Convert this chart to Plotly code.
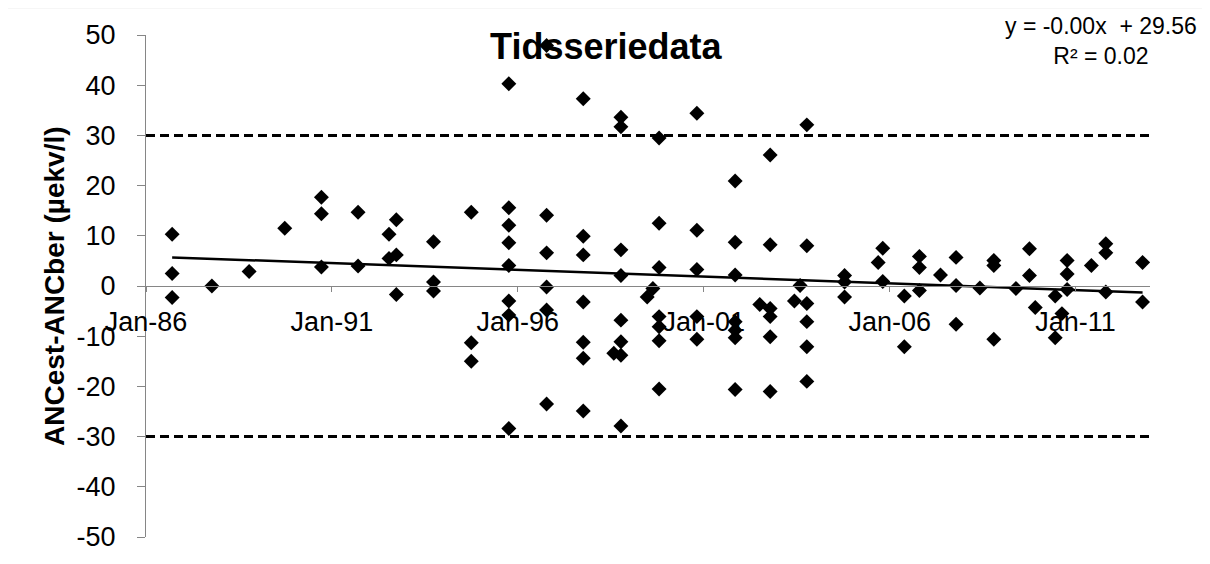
import plotly.graph_objects as go

# sampling dates, one entry per point (several samples share a date)
dates = (
    ["1986-09-15"] * 3 + ["1987-10-10"] + ["1988-10-10"] + ["1989-09-25"]
    + ["1990-09-20"] * 3 + ["1991-09-15"] * 2 + ["1992-07-15"] * 2
    + ["1992-09-25"] * 3 + ["1993-09-25"] * 3 + ["1994-10-01"] * 3
    + ["1995-10-05"] * 8 + ["1996-10-10"] * 6 + ["1997-10-05"] * 7
    + ["1998-08-01"] + ["1998-10-10"] * 8 + ["1999-06-25"] + ["1999-08-20"]
    + ["1999-10-20"] * 7 + ["2000-10-25"] * 5 + ["2001-11-05"] * 7
    + ["2002-07-05"] + ["2002-10-15"] * 6 + ["2003-06-10"] + ["2003-08-05"]
    + ["2003-10-10"] * 6 + ["2004-10-15"] * 3 + ["2005-09-10"] + ["2005-10-25"] * 2
    + ["2006-05-25"] * 2 + ["2006-10-20"] * 3 + ["2007-05-15"] + ["2007-10-15"] * 3
    + ["2008-06-05"] + ["2008-10-20"] * 3 + ["2009-05-25"] + ["2009-10-05"] * 2
    + ["2009-12-01"] + ["2010-06-15"] * 2 + ["2010-08-20"] + ["2010-10-10"] * 3
    + ["2011-06-05"] + ["2011-10-25"] * 3 + ["2012-10-20"] * 2
)

anc_diff = [
    10.3, 2.5, -2.3, 0.0, 2.9, 11.5,
    17.7, 14.4, 3.8, 14.7, 4.0, 10.3, 5.5,
    13.2, 6.2, -1.7, 8.8, 0.8, -1.0, 14.7, -11.3, -15.0,
    40.3, 15.6, 12.1, 8.6, 4.1, -3.0, -5.8, -28.4,
    47.9, 14.1, 6.6, -0.2, -4.8, -23.5,
    37.3, 9.9, 6.2, -3.2, -11.2, -14.4, -24.9,
    -13.4, 33.6, 31.7, 7.2, 2.1, -6.8, -11.1, -13.8, -27.9,
    -2.2, -0.5,
    29.5, 12.5, 3.7, -6.1, -8.1, -10.9, -20.5,
    34.4, 11.1, 3.3, -6.1, -10.6,
    20.9, 8.7, 2.2, -7.1, -8.8, -10.3, -20.6,
    -3.7, 26.1, 8.2, -4.5, -6.1, -10.1, -21.0,
    -3.0, 0.1,
    32.1, 8.0, -3.5, -7.1, -12.1, -19.0,
    2.1, 0.8, -2.2, 4.7, 7.5, 0.9,
    -2.0, -12.1, 5.9, 3.7, -0.9, 2.2, 5.7, 0.1, -7.6,
    -0.4, 5.1, 4.1, -10.6, -0.5, 7.4, 2.1,
    -4.3, -2.0, -10.3, -5.5, 5.1, 2.4, -0.7,
    4.1, 8.4, 6.6, -1.2, 4.7, -3.2,
]

# linear trend (Excel trendline) end points
trend_x = ["1986-09-15", "2012-10-20"]
trend_y = [5.7, -1.3]

# +/- 30 limit lines
limit_x = ["1986-01-01", "2013-01-01"]
upper = [30, 30]
lower = [-30, -30]

y_ticks = list(range(-50, 51, 10))
y_tick_labels = ["-50", "-40", "-30", "-20", "-10", "0", "10", "20", "30", "40", "50"]

font = "Liberation Sans, Arial, sans-serif"
axis_grey = "#868686"

# the page body has an 8px margin, so the figure is 8px smaller than the window
W, H = 1202, 556
fig = go.Figure()

fig.add_trace(go.Scatter(x=limit_x, y=upper, mode="lines",
                         line=dict(color="black", width=3, dash="9px,5px")))
fig.add_trace(go.Scatter(x=limit_x, y=lower, mode="lines",
                         line=dict(color="black", width=3, dash="9px,5px")))
fig.add_trace(go.Scatter(x=dates, y=anc_diff, mode="markers",
                         marker=dict(symbol="diamond", size=11.5, color="black")))
fig.add_trace(go.Scatter(x=trend_x, y=trend_y, mode="lines",
                         line=dict(color="black", width=2.5)))

fig.update_layout(
    width=W, height=H,
    margin=dict(l=138, r=60, t=26, b=23),
    paper_bgcolor="white", plot_bgcolor="white",
    showlegend=False,
    font=dict(family=font, color="black"),
    title=dict(text="<b>Tidsseriedata</b>", font=dict(size=36, family=font),
               xref="paper", x=0.458, xanchor="center",
               yref="container", y=1 - 38 / H, yanchor="middle"),
)

fig.update_xaxes(
    type="date",
    range=["1986-01-01", "2013-01-01"],
    tick0="1986-01-01", dtick="M60", tickformat="%b-%y",
    anchor="free", position=0.5,
    showline=True, linecolor=axis_grey, linewidth=1.3,
    ticks="outside", ticklen=5, tickcolor=axis_grey,
    ticklabelstandoff=6,
    showgrid=False, zeroline=False,
    tickfont=dict(size=27, family=font, color="black"),
)

fig.update_yaxes(
    range=[-50, 50],
    tickvals=y_ticks, ticktext=y_tick_labels,
    showline=True, linecolor=axis_grey, linewidth=1.3,
    ticks="outside", ticklen=8, tickcolor=axis_grey,
    ticklabelstandoff=16,
    showgrid=False, zeroline=False,
    tickfont=dict(size=27, family=font, color="black"),
)

# y-axis title
fig.add_annotation(text="<b>ANCest-ANCber (µekv/l)</b>", textangle=-90,
                   xref="paper", yref="paper", x=(54 - 146) / 1004, y=0.5,
                   xanchor="center", yanchor="middle", showarrow=False,
                   font=dict(size=28, family=font, color="black"))

# trendline equation
fig.add_annotation(text="y = -0.00x  + 29.56<br>R² = 0.02", align="center",
                   xref="paper", yref="paper", x=(1101 - 146) / 1004,
                   y=(541 - 40) / 507, xanchor="center", yanchor="middle",
                   showarrow=False,
                   font=dict(size=23, family=font, color="black"))

# light chart-area border
fig.add_shape(type="rect", xref="paper", yref="paper",
              x0=(6 - 146) / 1004, x1=(1216 - 146) / 1004,
              y0=(541 - 570) / 507, y1=(541 - 6) / 507,
              line=dict(color="#d9d9d9", width=2), layer="below")

fig.write_html("out.html")
